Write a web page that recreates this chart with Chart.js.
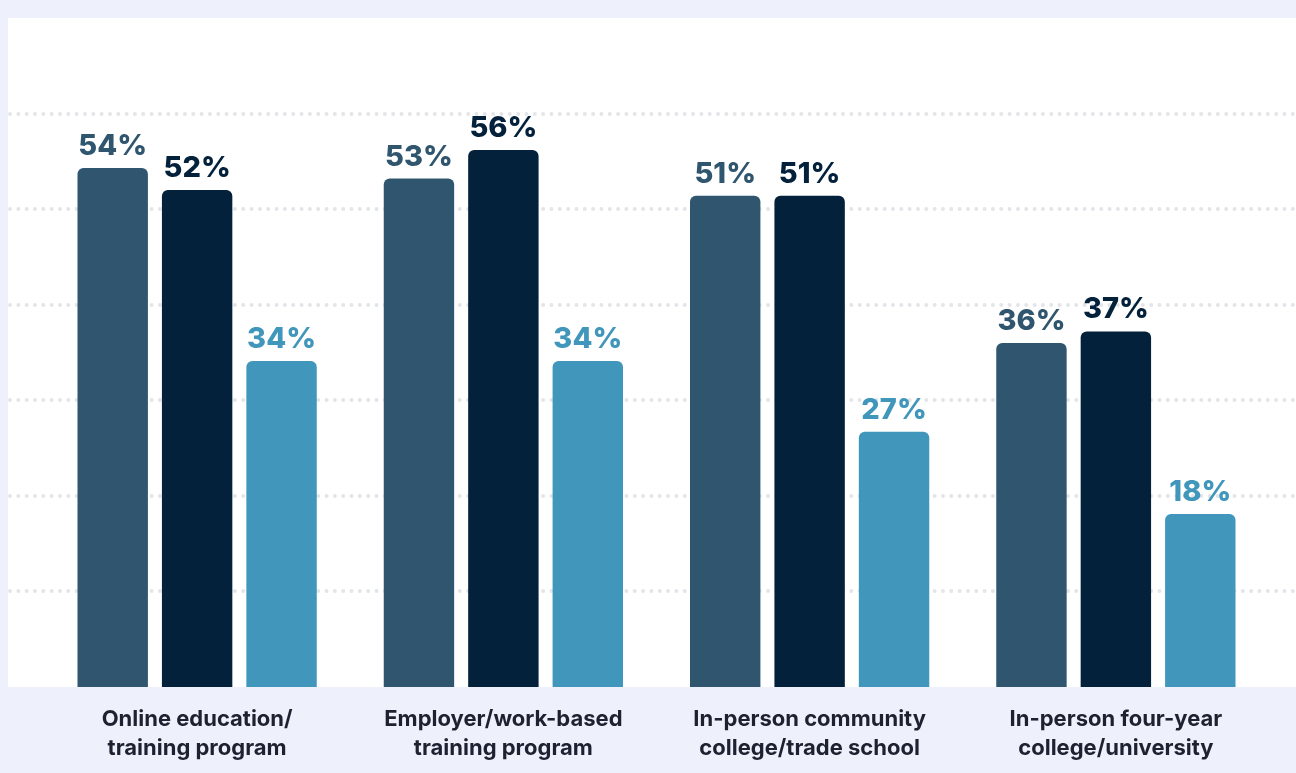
<!DOCTYPE html>
<html>
<head>
<meta charset="utf-8">
<script src="https://cdn.jsdelivr.net/npm/chart.js@4"></script>
<style>
  html, body { margin: 0; padding: 0; background: #eef0fc; }
  #wrap { width: 1296px; height: 773px; position: relative; }
</style>
</head>
<body>
<div id="wrap"><canvas id="myChart"></canvas></div>
<script>
const categories = [
  ["Online education/", "training program"],
  ["Employer/work-based", "training program"],
  ["In-person community", "college/trade school"],
  ["In-person four-year", "college/university"],
];
const seriesA = [54.3, 53.2, 51.4, 36.0];
const seriesB = [52.0, 56.2, 51.4, 37.2];
const seriesC = [34.1, 34.1, 26.7, 18.1];
const colorA = "#30566f";
const colorB = "#03213b";
const colorC = "#4096bb";
const yTicks = [10, 20, 30, 40, 50, 60];

// white panel + dotted grid across the full panel width
const panelGrid = {
  id: "panelGrid",
  beforeDatasetsDraw(chart) {
    const { ctx, chartArea, scales } = chart;
    ctx.save();
    ctx.fillStyle = "#ffffff";
    ctx.fillRect(8, 18, chart.width - 8, chartArea.bottom - 18);
    ctx.strokeStyle = "#e4e5e8";
    ctx.lineWidth = 4;
    ctx.lineCap = "round";
    ctx.setLineDash([0, 8.33]);
    yTicks.forEach((v) => {
      const y = Math.round(scales.y.getPixelForValue(v));
      ctx.beginPath();
      ctx.moveTo(10, y);
      ctx.lineTo(chart.width, y);
      ctx.stroke();
    });
    ctx.restore();
  },
};

const valueLabels = {
  id: "valueLabels",
  afterDatasetsDraw(chart) {
    const { ctx } = chart;
    ctx.save();
    ctx.font = "800 29px Inter, 'Noto Sans', sans-serif";
    ctx.textAlign = "center";
    ctx.textBaseline = "alphabetic";
    chart.data.datasets.forEach((ds, i) => {
      chart.getDatasetMeta(i).data.forEach((bar, j) => {
        ctx.fillStyle = ds.backgroundColor;
        ctx.fillText(Math.round(ds.data[j]) + "%", bar.x, bar.y - 13);
      });
    });
    ctx.restore();
  },
};

const ds = (data, color) => ({
  data: data,
  backgroundColor: color,
  borderRadius: { topLeft: 6, topRight: 6 },
  borderSkipped: "bottom",
  categoryPercentage: 0.827,
  barPercentage: 0.834,
});

new Chart(document.getElementById("myChart"), {
  type: "bar",
  data: {
    labels: categories,
    datasets: [ds(seriesA, colorA), ds(seriesB, colorB), ds(seriesC, colorC)],
  },
  options: {
    responsive: true,
    maintainAspectRatio: false,
    animation: false,
    layout: { padding: { left: 44, right: 27, top: 18, bottom: 12 } },
    plugins: { legend: { display: false }, tooltip: { enabled: false } },
    scales: {
      y: { display: false, min: 0, max: 70 },
      x: {
        afterFit: (scale) => { scale.height = 74; },
        grid: { display: false, drawTicks: false },
        border: { display: false },
        ticks: {
          padding: 18,
          color: "#1e2230",
          font: { family: "Inter, 'Noto Sans', sans-serif", size: 22, weight: "bold", lineHeight: 1.3 },
        },
      },
    },
  },
  plugins: [panelGrid, valueLabels],
});
</script>
</body>
</html>
